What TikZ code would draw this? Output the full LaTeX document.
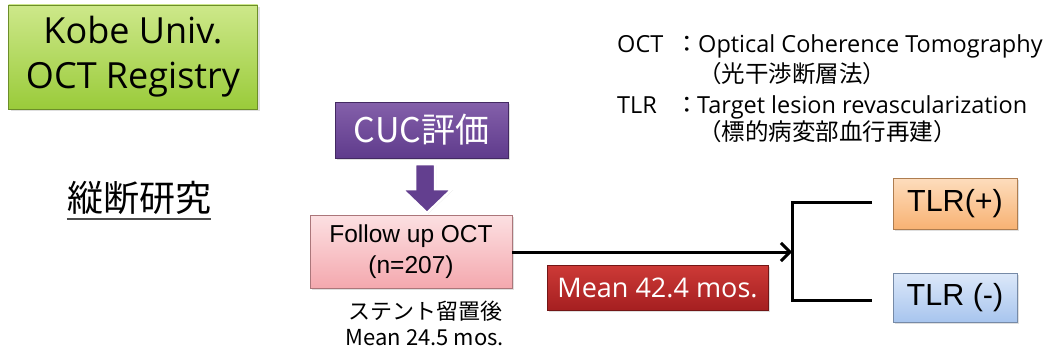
\documentclass[tikz,border=0pt]{standalone}
\usepackage{fontspec}
\setmainfont{Liberation Sans}
\newfontfamily\jp{Noto Sans CJK JP}
\newfontfamily\seg{Open Sans}
\usetikzlibrary{shadows,arrows.meta}
\definecolor{greenT}{HTML}{CDE88A}
\definecolor{greenB}{HTML}{9ACB3A}
\definecolor{purT}{HTML}{8460AA}
\definecolor{purB}{HTML}{5F3B8C}
\definecolor{pinkT}{HTML}{FCE0E2}
\definecolor{pinkB}{HTML}{F4A8AE}
\definecolor{redT}{HTML}{CD3A37}
\definecolor{redB}{HTML}{A51F20}
\definecolor{oraT}{HTML}{FDDDBD}
\definecolor{oraB}{HTML}{F8B273}
\definecolor{bluT}{HTML}{DCE8F9}
\definecolor{bluB}{HTML}{A8C5EE}
\tikzset{
  box/.style={draw=#1!70!black, line width=0.6pt, inner sep=0pt, align=center,
    drop shadow={shadow xshift=2pt, shadow yshift=-2pt, opacity=0.25}},
  conn/.style={line width=3pt, black},
}
\begin{document}
\begin{tikzpicture}[x=1pt,y=-1pt]
\useasboundingbox (0,0) rectangle (1055,353);
% green title
\node[box=greenB, top color=greenT, bottom color=greenB, minimum width=249, minimum height=104,
  font=\seg\fontsize{36}{45}\selectfont] (title) at (133,57) {Kobe Univ.\\OCT Registry};
% longitudinal study
\node[font=\jp\fontsize{36}{40}\selectfont, inner sep=0pt] (jud) at (139,198) {縦断研究};
\draw[line width=2pt, black!70] ([yshift=-4pt]jud.south west) -- ([yshift=-4pt]jud.south east);
% purple
\node[box=purB, top color=purT, bottom color=purB, minimum width=173, minimum height=56,
  text=white, font=\jp\fontsize{34}{38}\selectfont] (cuc) at (421.5,130) {CUC評価};
% block arrow
\draw[white, line width=2.5pt, fill=purB!90!purT, line join=miter,
  drop shadow={shadow xshift=1pt, shadow yshift=-1pt, opacity=0.25}]
  (415,164) -- (435,164) -- (435,189) -- (452,189) -- (427,213) -- (402,189) -- (415,189) -- cycle;
% pink
\node[box=pinkB, top color=pinkT, bottom color=pinkB, minimum width=202, minimum height=73,
  font=\fontsize{24.5}{31}\selectfont] (fu) at (411,251.5) {Follow up OCT\\(n=207)};
\node[font=\jp\fontsize{22}{26}\selectfont, align=center, inner sep=0pt] (stent) at (425,323) {ステント留置後\\Mean 24.5 mos.};
% red
\node[box=redB, top color=redT, bottom color=redB, minimum width=221, minimum height=45,
  text=white, font=\seg\fontsize{27}{30}\selectfont] (mean) at (657.5,287.5) {Mean 42.4 mos.};
% TLR boxes
\node[box=oraB, top color=oraT, bottom color=oraB, minimum width=124, minimum height=51,
  font=\fontsize{30.5}{32}\selectfont] (tp) at (955,203.5) {TLR(+)};
\node[box=bluB, top color=bluT, bottom color=bluB, minimum width=124, minimum height=49,
  font=\fontsize{30.5}{32}\selectfont] (tm) at (955,297.5) {TLR (-)};
% connectors
\coordinate (br) at (792,252);
\coordinate (bt) at (792,202);
\coordinate (bb) at (792,300);
\coordinate (et) at (872,202);
\coordinate (eb) at (872,300);
\draw[conn, -{Straight Barb[length=9pt,width=18pt,line width=3pt]}] (fu.east |- br) -- (br);
\draw[conn, line join=miter] (et) -- (bt) -- (bb) -- (eb);
% legend
\tikzset{leg/.style={font=\seg\fontsize{23.5}{26}\selectfont, inner sep=0pt, anchor=base west},
  legj/.style={font=\jp\fontsize{23.5}{26}\selectfont, inner sep=0pt, anchor=base west}}
\node[leg] (l1a) at (617,53) {OCT};
\node[legj] (l1b) at (675,53) {：};
\node[leg] (l1c) at (698,53) {Optical Coherence Tomography};
\node[legj] (l2) at (698,83) {（光干渉断層法）};
\node[leg] (l3a) at (617,113) {TLR};
\node[legj] (l3b) at (675,113) {：};
\node[leg] (l3c) at (697,113) {Target lesion revascularization};
\node[legj] (l4) at (698,140) {（標的病変部血行再建）};
\end{tikzpicture}
\end{document}
